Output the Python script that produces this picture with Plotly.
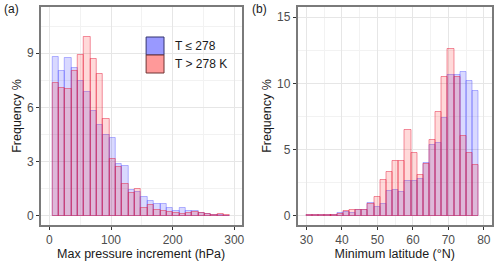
import plotly.graph_objects as go
from plotly.subplots import make_subplots

# ---- data ----
pressure_bin_centers = [10.0, 20.3, 30.6, 40.9, 51.2, 61.5, 71.8, 82.1, 92.4, 102.7,
                        113.0, 123.3, 133.6, 143.9, 154.2, 164.5, 174.8, 185.1, 195.4, 205.7,
                        216.0, 226.3, 236.6, 246.9, 257.2, 267.5, 277.8, 288.1]
pressure_cold = [8.82, 8.0, 8.73, 8.2, 7.45, 6.85, 5.83, 5.02, 4.48, 4.3,
                 2.88, 2.75, 1.44, 1.35, 1.07, 0.85, 0.65, 0.68, 0.44, 0.3,
                 0.42, 0.25, 0.28, 0.18, 0.12, 0.08, 0.03, 0.0]
pressure_warm = [7.36, 7.08, 7.02, 8.03, 8.88, 9.9, 8.69, 7.88, 5.35, 3.13,
                 2.72, 1.77, 1.29, 1.47, 0.46, 0.62, 0.32, 0.3, 0.22, 0.15,
                 0.12, 0.14, 0.2, 0.15, 0.1, 0.08, 0.1, 0.08]

lat_bin_centers = [30.87, 32.60, 34.34, 36.07, 37.80, 39.54, 41.27, 43.01, 44.74, 46.47,
                   48.21, 49.94, 51.68, 53.41, 55.14, 56.88, 58.61, 60.35, 62.08, 63.81,
                   65.55, 67.28, 69.02, 70.75, 72.48, 74.22, 75.95, 77.69]
lat_cold = [0.02, 0.02, 0.05, 0.03, 0.05, 0.18, 0.3, 0.18, 0.4, 0.45,
            0.97, 0.68, 0.88, 1.86, 1.94, 1.8, 2.65, 2.65, 2.8, 3.95,
            5.35, 5.5, 7.4, 10.6, 10.65, 10.85, 10.2, 9.4]
lat_warm = [0.02, 0.02, 0.03, 0.03, 0.05, 0.1, 0.35, 0.43, 0.45, 0.45,
            0.92, 1.43, 2.72, 3.32, 4.15, 4.15, 6.5, 4.75, 3.05, 3.9,
            5.75, 7.8, 10.45, 12.6, 10.45, 6.05, 4.75, 3.8]

pressure_bin_width = 10.3
lat_bin_width = 1.734

legend_labels = ["T ≤ 278", "T > 278 K"]

# ---- styles ----
FONT = "Liberation Sans, Arial, sans-serif"
BLUE_FILL = "rgba(0,0,255,0.15)"
BLUE_LINE = "rgba(70,70,255,0.38)"
RED_FILL = "rgba(255,0,0,0.15)"
RED_LINE = "rgba(230,30,60,0.48)"

fig = make_subplots(rows=1, cols=2)

def add_pair(x, cold, warm, width, col):
    fig.add_trace(go.Bar(x=x, y=cold, width=width, marker=dict(color=BLUE_FILL,
                  line=dict(color=BLUE_LINE, width=1)), showlegend=False), row=1, col=col)
    fig.add_trace(go.Bar(x=x, y=warm, width=width, marker=dict(color=RED_FILL,
                  line=dict(color=RED_LINE, width=1)), showlegend=False), row=1, col=col)

add_pair(pressure_bin_centers, pressure_cold, pressure_warm, pressure_bin_width, 1)
add_pair(lat_bin_centers, lat_cold, lat_warm, lat_bin_width, 2)

W, H = 500, 263
MT, MB = 7, 38

axis_common = dict(showline=True, mirror=True, linecolor="#7a7a7a", linewidth=1.5,
                   ticks="outside", ticklen=3, tickcolor="#333333", tickwidth=1,
                   gridcolor="#e6e6e6", gridwidth=1.2, zeroline=False,
                   tickfont=dict(family=FONT, size=12, color="#4d4d4d"),
                   title_font=dict(family=FONT, size=12.5, color="#1a1a1a"))

fig.update_xaxes(domain=[41 / W, 243 / W], range=[-14, 311.8], tickvals=[0, 100, 200, 300],
                 minor=dict(showgrid=True, tickvals=[50, 150, 250], gridcolor="#f2f2f2", gridwidth=0.8),
                 title_text="Max pressure increment (hPa)", title_standoff=3, **axis_common, row=1, col=1)
fig.update_yaxes(range=[-0.5, 11.56], tickvals=[0, 3, 6, 9],
                 minor=dict(showgrid=True, tickvals=[1.5, 4.5, 7.5, 10.5], gridcolor="#f2f2f2", gridwidth=0.8),
                 title_text="Frequency %", title_standoff=3, **axis_common, row=1, col=1)
fig.update_xaxes(domain=[299.3 / W, 495 / W], range=[27.5, 82.3], tickvals=[30, 40, 50, 60, 70, 80],
                 minor=dict(showgrid=True, tickvals=[35, 45, 55, 65, 75], gridcolor="#f2f2f2", gridwidth=0.8),
                 title_text="Minimum latitude (°N)", title_standoff=3, **axis_common, row=1, col=2)
fig.update_yaxes(range=[-0.7, 15.77], tickvals=[0, 5, 10, 15],
                 minor=dict(showgrid=True, tickvals=[2.5, 7.5, 12.5], gridcolor="#f2f2f2", gridwidth=0.8),
                 title_text="Frequency %", title_standoff=3, **axis_common, row=1, col=2)

def px_x(p):
    return p / W

def px_y(p):
    return (H - MB - p) / (H - MT - MB)

shapes = [
    dict(type="rect", xref="paper", yref="paper", x0=px_x(142), x1=px_x(232), y0=px_y(79), y1=px_y(32),
         fillcolor="white", line=dict(width=0), layer="below"),
    dict(type="rect", xref="paper", yref="paper", x0=px_x(147), x1=px_x(165), y0=px_y(55), y1=px_y(37),
         fillcolor="#9999ff", line=dict(color="#33336e", width=1)),
    dict(type="rect", xref="paper", yref="paper", x0=px_x(147), x1=px_x(165), y0=px_y(73), y1=px_y(55),
         fillcolor="#ff9999", line=dict(color="#6e3333", width=1)),
]

annotations = [
    dict(text=legend_labels[0], x=px_x(174), y=px_y(46), xref="paper", yref="paper",
         xanchor="left", yanchor="middle", showarrow=False, font=dict(family=FONT, size=12, color="#1a1a1a")),
    dict(text=legend_labels[1], x=px_x(174), y=px_y(64), xref="paper", yref="paper",
         xanchor="left", yanchor="middle", showarrow=False, font=dict(family=FONT, size=12, color="#1a1a1a")),
    dict(text="(a)", x=px_x(2), y=px_y(9), xref="paper", yref="paper",
         xanchor="left", yanchor="middle", showarrow=False, font=dict(family=FONT, size=12, color="#1a1a1a")),
    dict(text="(b)", x=px_x(252), y=px_y(9), xref="paper", yref="paper",
         xanchor="left", yanchor="middle", showarrow=False, font=dict(family=FONT, size=12, color="#1a1a1a")),
]

fig.update_layout(width=W, height=H, margin=dict(l=0, r=0, t=MT, b=MB),
                  barmode="overlay", bargap=0, plot_bgcolor="white", paper_bgcolor="white",
                  shapes=shapes, annotations=annotations, showlegend=False,
                  font=dict(family=FONT))

fig.write_html("out.html", config={"displayModeBar": False},
               post_script="document.body.style.margin='0';document.body.style.overflow='hidden';")
